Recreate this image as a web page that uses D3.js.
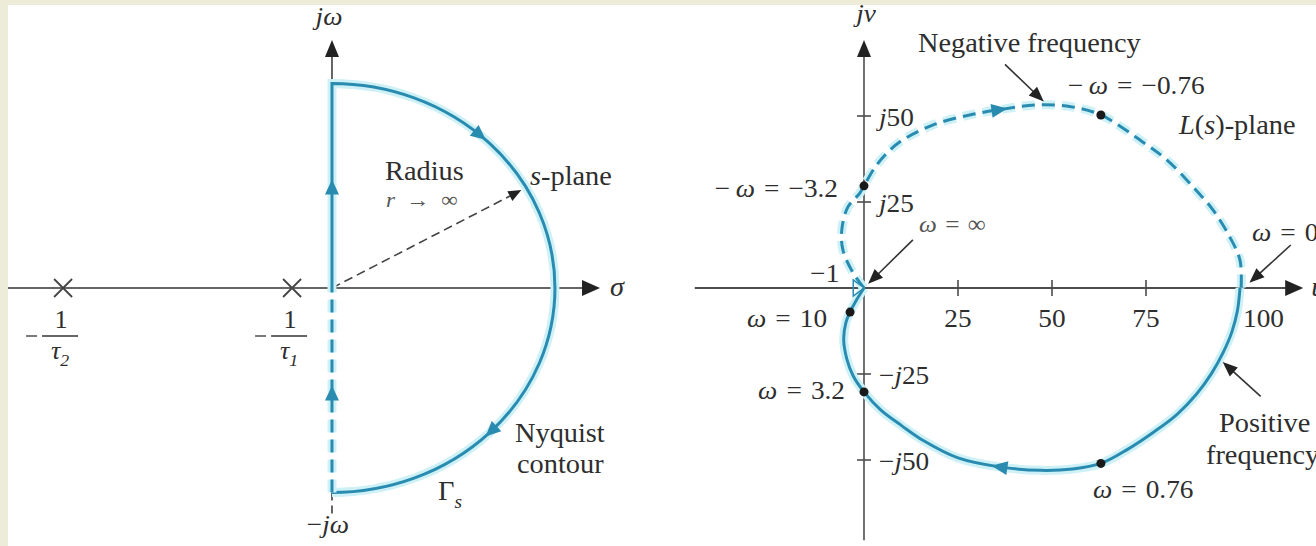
<!DOCTYPE html>
<html>
<head>
<meta charset="utf-8">
<script src="https://cdn.jsdelivr.net/npm/d3@7"></script>
<style>
  html, body { margin: 0; padding: 0; background: #fff; }
  svg { display: block; }
  text { font-family: "Liberation Serif", "Times New Roman", serif; fill: #2e2e2e; }
</style>
</head>
<body>
<svg id="chart" width="1316" height="546"></svg>
<script>
// ---------- s-plane (left) ----------
// pole locations on the real axis, in units of the contour radius
const poleSigma = [-1.206, -0.179];
const poleSubscripts = ["2", "1"];
// direction arrows on the imaginary-axis part of the contour (units of radius)
const axisArrowOmega = [0.494, -0.513];
// direction arrows on the semicircle (degrees from the sigma axis)
const arcArrowAngles = [48.4, -44.5];
// the radius vector drawn inside the contour
const radiusAngle = 29.4;
const radiusLength = 0.975;

// ---------- L(s)-plane (right) ----------
const realTicks = [25, 50, 75, 100];
const imagTicks = [50, 25, -25, -50];
const imagTickLabels = ["{j}50", "{j}25", "\u2212{j}25", "\u2212{j}50"];

// positive frequencies, omega = 0 -> +inf  (real, imaginary)
const positiveRe = [100, 99.3, 97.8, 95.5, 92.4, 88.4, 83.2, 76.9, 70.1, 63, 55.5, 47, 36, 25, 16, 10, 4.5, 0, -2.9, -4.6, -5.4, -4.8, -3.7, -2, 0];
const positiveIm = [0, -6.7, -12.9, -18.8, -24.9, -30.9, -36.8, -42, -46.9, -51, -52.6, -53, -52, -49.4, -44.5, -40, -35.5, -30.2, -25.5, -20.5, -15, -10, -7, -3.5, 0];
// negative frequencies, omega = -inf -> 0
const negativeRe = [0, -2.9, -5.6, -5.9, -4.3, -1.1, 0, 3.6, 9.2, 18.1, 28.1, 37, 46, 55, 63, 74.2, 80.6, 87.5, 92.8, 97.3, 100, 100.3];
const negativeIm = [0, 4.4, 11, 16.9, 23.5, 27.6, 29.7, 36.1, 42.2, 47.3, 50.3, 52, 53.2, 52.7, 50.3, 42.4, 37.2, 29.4, 22.7, 14.8, 8.1, 0];

// labelled frequency points
const markLabels = [
  "\u2212\u2009{\u03c9}\u2004=\u2004\u22120.76",
  "\u2212\u2009{\u03c9}\u2004=\u2004\u22123.2",
  "{\u03c9}\u2004=\u200410",
  "{\u03c9}\u2004=\u20043.2",
  "{\u03c9}\u2004=\u20040.76"
];
const markRe = [63, 0, -3.7, 0, 63];
const markIm = [50.3, 29.7, -7, -30.2, -51];

// ---------- drawing ----------
const W = 1316, H = 546;
const BLUE = "#2a8bb0", HALO = "#cdf1f6", INK = "#333", AXIS = "#4d4d4d";
const FONT = 27, STRETCH = 1.05;

const svg = d3.select("#chart");
svg.append("rect").attr("width", W).attr("height", H).attr("fill", "#fff");
svg.append("rect").attr("width", W).attr("height", 5).attr("fill", "#ececd8");
svg.append("rect").attr("width", 8).attr("height", H).attr("fill", "#ececd8");

// text with {italic} and _{italic subscript} segments
function rich(g, x, y, str, opts = {}) {
  const size = opts.size || FONT;
  const t = g.append("text")
    .attr("transform", `translate(${x},${y}) scale(${opts.stretch || STRETCH},1)`)
    .attr("text-anchor", opts.anchor || "start")
    .attr("font-size", size);
  if (opts.fill) t.style("fill", opts.fill);
  let shift = 0;
  str.split(/(_\{[^}]*\}|\{[^}]*\})/).filter(s => s.length).forEach(tok => {
    const sp = t.append("tspan");
    if (tok.startsWith("_{")) {
      const d = size * 0.28;
      sp.text(tok.slice(2, -1)).attr("font-style", "italic")
        .attr("font-size", size * 0.68).attr("dy", d - shift);
      shift = d;
    } else {
      if (shift) { sp.attr("dy", -shift); shift = 0; }
      if (tok.startsWith("{")) sp.text(tok.slice(1, -1)).attr("font-style", "italic");
      else sp.text(tok);
    }
  });
  return t;
}

// filled triangle centred on (cx, cy) pointing along angle a (radians)
function triangle(g, cx, cy, a, len, half, fill) {
  const dx = Math.cos(a), dy = Math.sin(a);
  const tip = [cx + dx * len / 2, cy + dy * len / 2];
  const bx = cx - dx * len / 2, by = cy - dy * len / 2;
  const p1 = [bx - dy * half, by + dx * half];
  const p2 = [bx + dy * half, by - dx * half];
  return g.append("path").attr("d", `M${tip}L${p1}L${p2}Z`).attr("fill", fill);
}

// arrowhead whose tip sits exactly at (tx, ty)
function headAt(g, tx, ty, a, len, half, fill) {
  return triangle(g, tx - Math.cos(a) * len / 2, ty - Math.sin(a) * len / 2, a, len, half, fill);
}

function pointer(g, x0, y0, x1, y1) {
  const a = Math.atan2(y1 - y0, x1 - x0);
  g.append("line").attr("x1", x0).attr("y1", y0)
    .attr("x2", x1 - Math.cos(a) * 8).attr("y2", y1 - Math.sin(a) * 8)
    .attr("stroke", INK).attr("stroke-width", 1.6);
  headAt(g, x1, y1, a, 15, 6, "#222");
}

function blueStroke(g, d, dash) {
  g.append("path").attr("d", d).attr("fill", "none").attr("stroke", HALO)
    .attr("stroke-width", 9).attr("stroke-dasharray", dash || null);
  g.append("path").attr("d", d).attr("fill", "none").attr("stroke", BLUE)
    .attr("stroke-width", 3).attr("stroke-dasharray", dash || null);
}

// ===== s-plane =====
const left = svg.append("g");
const sx = d3.scaleLinear().domain([-1.453, 1.202]).range([8, 600]);
const sy = d3.scaleLinear().domain([-1, 1]).range([492.5, 83.5]);
const ox = sx(0), oy = sy(0);
const rX = sx(1) - sx(0), rY = sy(0) - sy(1);

// real axis
left.append("line").attr("x1", sx(-1.453)).attr("x2", sx(1.202) - 10)
  .attr("y1", oy).attr("y2", oy).attr("stroke", "#666").attr("stroke-width", 2.2);
headAt(left, sx(1.202), oy, 0, 18, 8, "#222");
rich(left, sx(1.202) + 10, oy + 8, "{\u03c3}");

// imaginary axis (above and below the contour)
left.append("line").attr("x1", ox).attr("x2", ox).attr("y1", sy(1.213) + 10).attr("y2", sy(1))
  .attr("stroke", "#333").attr("stroke-width", 1.5);
headAt(left, ox, sy(1.213), -Math.PI / 2, 17, 7, "#222");
left.append("line").attr("x1", ox).attr("x2", ox).attr("y1", sy(-1)).attr("y2", sy(-1.11))
  .attr("stroke", "#333").attr("stroke-width", 1.5).attr("stroke-dasharray", "8,5");
rich(left, ox - 3, 25, "{j\u03c9}", { anchor: "middle", size: 26 });
rich(left, ox - 4, 533, "\u2212{j\u03c9}", { anchor: "middle", size: 26 });

// poles
poleSigma.forEach((p, i) => {
  const px = sx(p);
  left.append("path").attr("d", `M${px - 9},${oy - 9}L${px + 9},${oy + 9}M${px - 9},${oy + 9}L${px + 9},${oy - 9}`)
    .attr("stroke", "#444").attr("stroke-width", 1.8);
  const cx = px - 3, by = oy + 48;
  left.append("line").attr("x1", cx - 18).attr("x2", cx + 18).attr("y1", by).attr("y2", by)
    .attr("stroke", INK).attr("stroke-width", 1.3);
  left.append("line").attr("x1", cx - 34).attr("x2", cx - 23).attr("y1", by).attr("y2", by)
    .attr("stroke", INK).attr("stroke-width", 1.3);
  rich(left, cx + 1, by - 8, "1", { anchor: "middle", size: 25 });
  rich(left, cx, by + 23, "{\u03c4}_{" + poleSubscripts[i] + "}", { anchor: "middle", size: 25 });
});

// radius vector
const ra = radiusAngle * Math.PI / 180;
const rtx = sx(radiusLength * Math.cos(ra)), rty = sy(radiusLength * Math.sin(ra));
const rAng = Math.atan2(rty - oy, rtx - ox);
left.append("line").attr("x1", ox).attr("y1", oy)
  .attr("x2", rtx - Math.cos(rAng) * 8).attr("y2", rty - Math.sin(rAng) * 8)
  .attr("stroke", "#444").attr("stroke-width", 1.6).attr("stroke-dasharray", "9,5");
headAt(left, rtx, rty, rAng, 13, 5.5, "#222");

// Nyquist contour
blueStroke(left, `M${ox},${oy}L${ox},${sy(1)}A${rX},${rY} 0 0 1 ${ox},${sy(-1)}`);
blueStroke(left, `M${ox},${sy(-1)}L${ox},${oy}`, "13,7");
axisArrowOmega.forEach(w => triangle(left, ox, sy(w), -Math.PI / 2, 15, 7, BLUE));
arcArrowAngles.forEach(deg => {
  const t = deg * Math.PI / 180;
  const px = sx(Math.cos(t)), py = sy(Math.sin(t));
  const a = Math.atan2(rY * Math.cos(t), rX * Math.sin(t));
  triangle(left, px, py, a, 15, 7, BLUE);
});

rich(left, 385, 180, "Radius");
rich(left, 386, 207, "{r}\u2002\u2192\u2002\u221e", { size: 22, fill: "#555" });
rich(left, 530, 185, "{s}-plane");
rich(left, 515, 442, "Nyquist");
rich(left, 517, 473, "contour");
rich(left, 438, 500, "\u0393_{s}");

// ===== L(s)-plane =====
const right = svg.append("g");
const rx = d3.scaleLinear().domain([0, 100]).range([864, 1240]);
const ry = d3.scaleLinear().domain([0, 50]).range([288, 116]);
const zx = rx(0), zy = ry(0);

right.append("line").attr("x1", rx(-45)).attr("x2", rx(116.8) - 10).attr("y1", zy).attr("y2", zy)
  .attr("stroke", AXIS).attr("stroke-width", 1.8);
headAt(right, rx(116.8), zy, 0, 18, 8, "#222");
rich(right, rx(116.8) + 8, zy + 8, "{u}");
right.append("line").attr("x1", zx).attr("x2", zx).attr("y1", ry(72.1) + 10).attr("y2", ry(-73.3))
  .attr("stroke", AXIS).attr("stroke-width", 1.6);
headAt(right, zx, ry(72.1), -Math.PI / 2, 17, 7, "#222");
rich(right, zx + 2, 22, "{jv}", { anchor: "middle", size: 26 });

realTicks.forEach(t => {
  right.append("line").attr("x1", rx(t)).attr("x2", rx(t)).attr("y1", zy - 8).attr("y2", zy + 8)
    .attr("stroke", AXIS).attr("stroke-width", 1.6);
  if (t === 100) rich(right, rx(t) + 3, zy + 39, String(t), { size: 26 });
  else rich(right, rx(t), zy + 39, String(t), { anchor: "middle", size: 26 });
});
imagTicks.forEach((t, i) => {
  right.append("line").attr("x1", zx - 7).attr("x2", zx + 7).attr("y1", ry(t)).attr("y2", ry(t))
    .attr("stroke", AXIS).attr("stroke-width", 1.6);
  rich(right, zx + 15, ry(t) + 10, imagTickLabels[i], { size: 26 });
});

const line = d3.line().x(d => rx(d[0])).y(d => ry(d[1])).curve(d3.curveCatmullRom.alpha(0.5));
const posPts = positiveRe.map((r, i) => [r, positiveIm[i]]);
const negPts = negativeRe.map((r, i) => [r, negativeIm[i]]);
blueStroke(right, line(negPts), "13,7");
blueStroke(right, line(posPts));

// direction arrows riding on the locus
function arrowOnPath(d, target) {
  const p = right.append("path").attr("d", d).attr("fill", "none").attr("stroke", "none");
  const node = p.node(), L = node.getTotalLength();
  let best = 0, bestD = Infinity;
  for (let l = 0; l <= L; l += 0.5) {
    const q = node.getPointAtLength(l);
    const dd = (q.x - target[0]) ** 2 + (q.y - target[1]) ** 2;
    if (dd < bestD) { bestD = dd; best = l; }
  }
  const a0 = node.getPointAtLength(Math.max(0, best - 2)), a1 = node.getPointAtLength(Math.min(L, best + 2));
  const c = node.getPointAtLength(best);
  triangle(right, c.x, c.y, Math.atan2(a1.y - a0.y, a1.x - a0.x), 16, 7, BLUE);
  p.remove();
}
arrowOnPath(line(negPts), [rx(36), ry(52)]);
arrowOnPath(line(posPts), [rx(36), ry(-52)]);

// the -1 point
const m1 = rx(-1);
right.append("path").attr("d", `M${m1 - 7},${zy - 8}L${m1 - 7},${zy + 8}L${m1 + 4},${zy}Z`)
  .attr("fill", "none").attr("stroke", BLUE).attr("stroke-width", 1.5);
rich(right, m1 - 50, zy - 6, "\u22121", { size: 26 });

// marked frequencies
const markOffsets = [[-33, -21, "start"], [-26, 11, "end"], [-23, 15, "end"], [-19, 7, "end"], [-8, 35, "start"]];
markLabels.forEach((lab, i) => {
  const px = rx(markRe[i]), py = ry(markIm[i]);
  right.append("circle").attr("cx", px).attr("cy", py).attr("r", 4.5).attr("fill", "#1a1a1a");
  rich(right, px + markOffsets[i][0], py + markOffsets[i][1], lab, { anchor: markOffsets[i][2], size: 26 });
});

// annotations
rich(right, 918, 52, "Negative frequency");
pointer(right, rx(37.5), ry(65), rx(47.8), ry(54.2));
rich(right, 1179, 134, "{L}({s})-plane");
rich(right, 919, 232, "{\u03c9}\u2004=\u2004\u221e", { size: 24, fill: "#555" });
pointer(right, rx(13), ry(14), rx(1.1), ry(1.2));
rich(right, 1252, 241, "{\u03c9}\u2004=\u20040", { size: 26 });
pointer(right, rx(113.5), ry(12.5), rx(102.5), ry(1.5));
rich(right, 1219, 432, "Positive");
rich(right, 1206, 464, "frequency");
pointer(right, rx(105.5), ry(-31.5), rx(95.4), ry(-21.5));
</script>
</body>
</html>
